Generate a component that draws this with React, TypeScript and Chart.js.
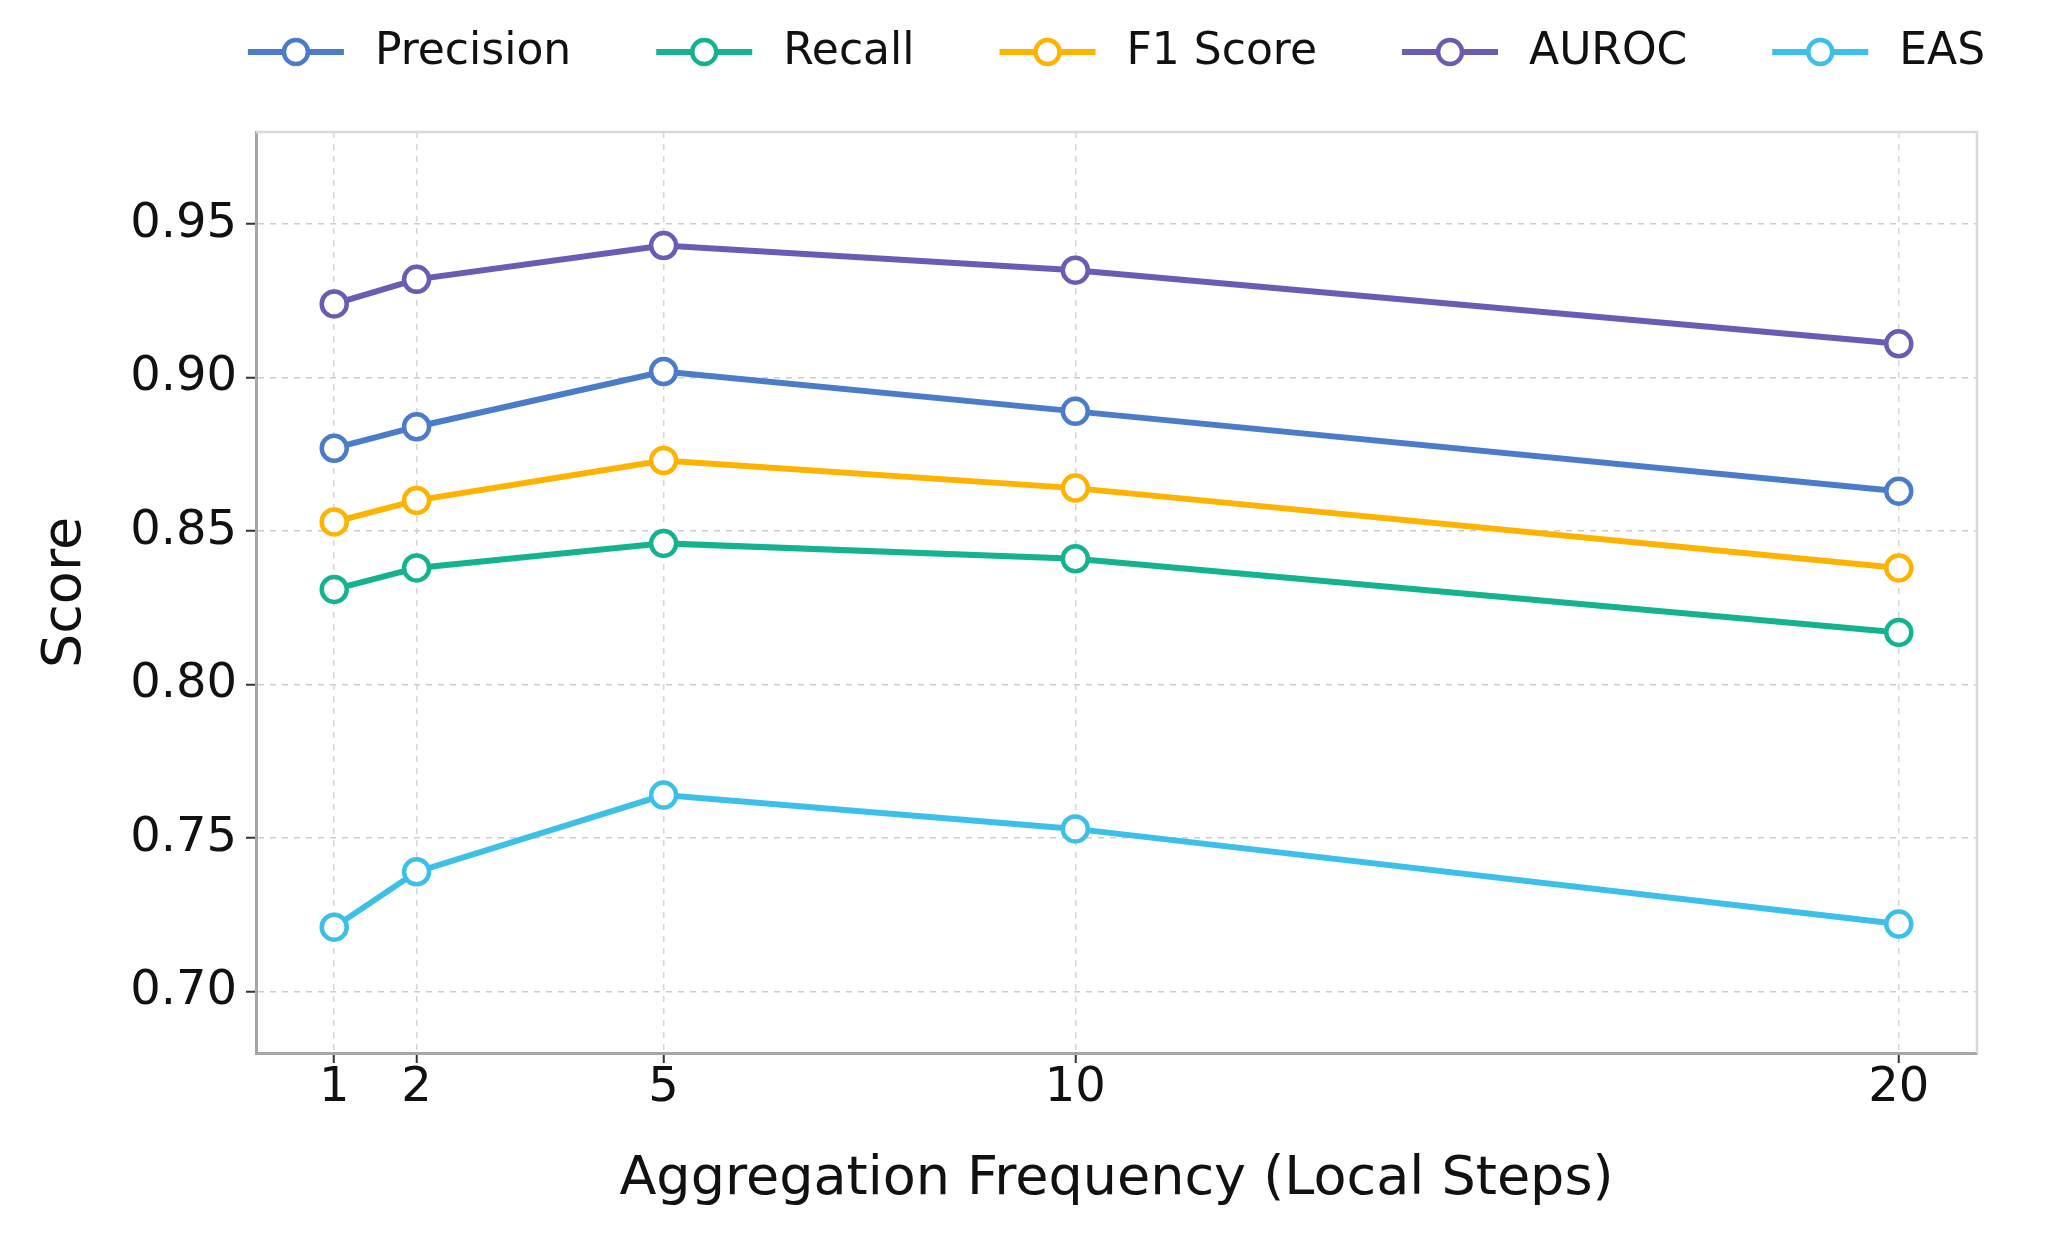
import React, { useEffect, useRef } from "react";
import { Chart, registerables } from "chart.js";

Chart.register(...registerables);

// ---- data ----
const steps = [1, 2, 5, 10, 20];
const xTickValues = [1, 2, 5, 10, 20];
const yTickValues = [0.7, 0.75, 0.8, 0.85, 0.9, 0.95];

const precision = [0.877, 0.884, 0.902, 0.889, 0.863];
const recall = [0.831, 0.838, 0.846, 0.841, 0.817];
const f1Score = [0.853, 0.86, 0.873, 0.864, 0.838];
const auroc = [0.924, 0.932, 0.943, 0.935, 0.911];
const eas = [0.721, 0.739, 0.764, 0.753, 0.722];

const seriesLabels = ["Precision", "Recall", "F1 Score", "AUROC", "EAS"];
const seriesValues = [precision, recall, f1Score, auroc, eas];
const seriesColors = ["#4a7cc9", "#14b38f", "#ffb300", "#6a5bb5", "#3cc0ea"];

const FONT = '"DejaVu Sans", "Noto Sans", sans-serif';

const legendPlugin = {
  id: "mplLegend",
  afterDraw(chart: any) {
    const { ctx, chartArea } = chart;
    const fontSize = 44;
    const lineLen = 96;
    const gapText = 31;
    const gapItem = 85;
    ctx.save();
    ctx.font = `${fontSize}px ${FONT}`;
    const items = chart.data.datasets.map((ds: any) => ({
      label: ds.label,
      color: ds.borderColor,
      textW: ctx.measureText(ds.label).width,
    }));
    const total =
      items.reduce((a: number, it: any) => a + lineLen + gapText + it.textW, 0) +
      gapItem * (items.length - 1);
    let x = (chartArea.left + chartArea.right) / 2 - total / 2;
    const y = 52;
    for (const it of items) {
      ctx.strokeStyle = it.color;
      ctx.lineWidth = 6;
      ctx.lineCap = "butt";
      ctx.beginPath();
      ctx.moveTo(x, y);
      ctx.lineTo(x + lineLen, y);
      ctx.stroke();
      ctx.beginPath();
      ctx.arc(x + lineLen / 2, y, 12, 0, Math.PI * 2);
      ctx.fillStyle = "#ffffff";
      ctx.fill();
      ctx.lineWidth = 4.5;
      ctx.stroke();
      ctx.fillStyle = "#111111";
      ctx.textAlign = "left";
      ctx.textBaseline = "middle";
      ctx.fillText(it.label, x + lineLen + gapText, y + 1);
      x += lineLen + gapText + it.textW + gapItem;
    }
    ctx.restore();
  },
};

const framePlugin = {
  id: "frame",
  beforeDatasetsDraw(chart: any) {
    const { ctx, chartArea } = chart;
    ctx.save();
    ctx.strokeStyle = "#d9d9d9";
    ctx.lineWidth = 2.5;
    ctx.beginPath();
    ctx.moveTo(chartArea.left, chartArea.top);
    ctx.lineTo(chartArea.right, chartArea.top);
    ctx.lineTo(chartArea.right, chartArea.bottom);
    ctx.stroke();
    ctx.restore();
  },
};

export default function App() {
  const canvasRef = useRef<HTMLCanvasElement | null>(null);

  useEffect(() => {
    document.body.style.margin = "0";
    const canvas = canvasRef.current;
    if (!canvas) return;
    const chart = new Chart(canvas, {
      type: "line",
      data: {
        datasets: seriesLabels.map((label, i) => ({
          label,
          data: steps.map((s, j) => ({ x: s, y: seriesValues[i][j] })),
          borderColor: seriesColors[i],
          backgroundColor: seriesColors[i],
          borderWidth: 6,
          tension: 0,
          pointRadius: 12.5,
          pointHoverRadius: 12.5,
          pointBorderWidth: 4.5,
          pointBackgroundColor: "#ffffff",
          pointBorderColor: seriesColors[i],
          clip: false as any,
        })),
      },
      options: {
        animation: false,
        responsive: true,
        maintainAspectRatio: false,
        layout: { padding: { left: 0, top: 132, right: 77, bottom: 0 } },
        plugins: {
          legend: { display: false },
          tooltip: { enabled: false },
        },
        scales: {
          x: {
            type: "linear",
            min: 0.05,
            max: 20.95,
            afterBuildTicks: (scale: any) => {
              scale.ticks = xTickValues.map((v) => ({ value: v }));
            },
            afterFit: (scale: any) => {
              scale.height = 1244 - 1053;
            },
            ticks: {
              autoSkip: false,
              maxRotation: 0,
              padding: 2,
              color: "#111111",
              font: { family: FONT, size: 48, lineHeight: 1 },
              callback: (v: any) => String(v),
            },
            grid: {
              color: "#d6d6d6",
              lineWidth: 1.5,
              tickLength: 10,
              tickColor: "#333333",
              tickWidth: 2,
            },
            border: { display: true, color: "#a6a6a6", width: 3, dash: [6, 6] },
            title: {
              display: true,
              text: "Aggregation Frequency (Local Steps)",
              color: "#111111",
              font: { family: FONT, size: 54 },
              padding: { top: 0, bottom: 32 },
            },
          },
          y: {
            type: "linear",
            min: 0.68,
            max: 0.98,
            afterBuildTicks: (scale: any) => {
              scale.ticks = yTickValues.map((v) => ({ value: v }));
            },
            afterFit: (scale: any) => {
              scale.width = 256;
            },
            ticks: {
              padding: 9,
              color: "#111111",
              font: { family: FONT, size: 48 },
              callback: (v: any) => Number(v).toFixed(2),
            },
            grid: {
              color: "#cccccc",
              lineWidth: 1.5,
              tickLength: 10,
              tickColor: "#333333",
              tickWidth: 2,
            },
            border: { display: true, color: "#a6a6a6", width: 3, dash: [6, 6] },
            title: {
              display: true,
              text: "Score",
              color: "#111111",
              font: { family: FONT, size: 54 },
              padding: { top: 34, bottom: 0 },
            },
          },
        },
      },
      plugins: [framePlugin, legendPlugin],
    });
    return () => chart.destroy();
  }, []);

  return (
    <div style={{ width: 2054, height: 1244, position: "relative" }}>
      <canvas ref={canvasRef} />
    </div>
  );
}
